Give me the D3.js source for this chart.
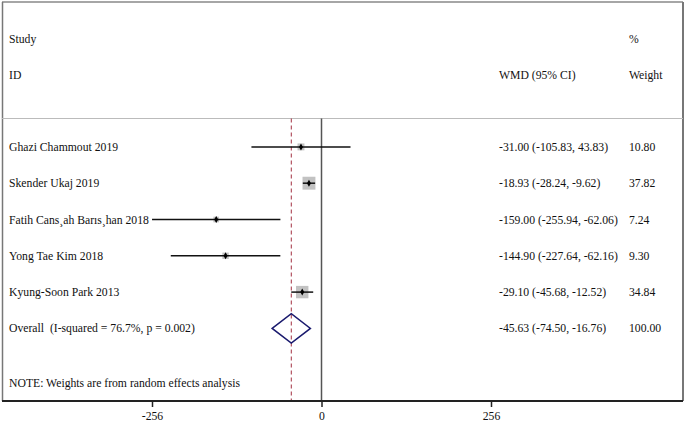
<!DOCTYPE html>
<html><head><meta charset="utf-8">
<script src="https://cdn.jsdelivr.net/npm/d3@7"></script>
<style>body{margin:0;background:#fff}svg{display:block}text{font-family:"Liberation Serif","Times New Roman",serif;font-size:11.7px;fill:#111;white-space:pre}</style>
</head><body><svg id="c" width="685" height="423"></svg>
<script>
const studies = ["Ghazi Chammout 2019","Skender Ukaj 2019","Fatih Cans\u00B8ah Barıs\u00B8han 2018","Yong Tae Kim 2018","Kyung-Soon Park 2013"];
const est = [-31.00,-18.93,-159.00,-144.90,-29.10];
const lo = [-105.83,-28.24,-255.94,-227.64,-45.68];
const hi = [43.83,-9.62,-62.06,-62.16,-12.52];
const weights = [10.80,37.82,7.24,9.30,34.84];
const ciText = ["-31.00 (-105.83, 43.83)","-18.93 (-28.24, -9.62)","-159.00 (-255.94, -62.06)","-144.90 (-227.64, -62.16)","-29.10 (-45.68, -12.52)"];
const weightText = ["10.80","37.82","7.24","9.30","34.84"];
const overall = {label:"Overall\u00A0\u00A0(I-squared = 76.7%, p = 0.002)", est:-45.63, lo:-74.50, hi:-16.76, text:"-45.63 (-74.50, -16.76)", weight:"100.00"};
const xTicks = [-256,0,256];

const svg = d3.select("#c");
const x = d3.scaleLinear().domain([-256,256]).range([152,491]);
const y = d3.scaleLinear().domain([0,5]).range([146.9,328.4]);
const axisY = 401;

// frame
svg.append("line").attr("x1",2).attr("x2",683).attr("y1",2).attr("y2",2).attr("stroke","#888").attr("stroke-width",1.5);
svg.append("line").attr("x1",2.5).attr("x2",2.5).attr("y1",2).attr("y2",axisY).attr("stroke","#777").attr("stroke-width",1.5);
svg.append("line").attr("x1",683).attr("x2",683).attr("y1",2).attr("y2",axisY).attr("stroke","#777").attr("stroke-width",2);
svg.append("line").attr("x1",2).attr("x2",683).attr("y1",118.5).attr("y2",118.5).attr("stroke","#bbb").attr("stroke-width",1.2);

// header
const hdr = [["Study",9,38.5],["ID",9,75],["WMD (95% CI)",499,75],["%",629,38.5],["Weight",629,75]];
hdr.forEach(h=>svg.append("text").attr("x",h[1]).attr("y",h[2]).attr("dy","0.35em").text(h[0]));

// zero line
svg.append("line").attr("x1",x(0)).attr("x2",x(0)).attr("y1",118.5).attr("y2",axisY).attr("stroke","#555").attr("stroke-width",1.5);
// overall dashed line
svg.append("line").attr("x1",x(overall.est)).attr("x2",x(overall.est)).attr("y1",118.5).attr("y2",axisY)
  .attr("stroke","#a33040").attr("stroke-width",1).attr("stroke-dasharray","4,3");

// study rows
studies.forEach((s,i)=>{
  const yy = y(i);
  svg.append("text").attr("x",9).attr("y",yy).attr("dy","0.35em").text(s);
  svg.append("text").attr("x",499).attr("y",yy).attr("dy","0.35em").text(ciText[i]);
  svg.append("text").attr("x",629).attr("y",yy).attr("dy","0.35em").text(weightText[i]);
  const side = 2.1*Math.sqrt(weights[i]);
  svg.append("rect").attr("x",x(est[i])-side/2).attr("y",yy-side/2).attr("width",side).attr("height",side).attr("fill","#c2c2c2");
  svg.append("line").attr("x1",x(lo[i])).attr("x2",x(hi[i])).attr("y1",yy).attr("y2",yy).attr("stroke","#111").attr("stroke-width",1.5);
  svg.append("path").attr("d",d3.symbol(d3.symbolDiamond,14)()).attr("transform",`translate(${x(est[i])},${yy})`).attr("fill","#000");
});

// overall
const oy = y(5);
svg.append("text").attr("x",9).attr("y",oy).attr("dy","0.35em").text(overall.label);
svg.append("text").attr("x",499).attr("y",oy).attr("dy","0.35em").text(overall.text);
svg.append("text").attr("x",629).attr("y",oy).attr("dy","0.35em").text(overall.weight);
const h = 14.7;
svg.append("path").attr("d",`M${x(overall.lo)},${oy}L${x(overall.est)},${oy-h}L${x(overall.hi)},${oy}L${x(overall.est)},${oy+h}Z`)
  .attr("fill","none").attr("stroke","#1a1a6e").attr("stroke-width",1.5);

svg.append("text").attr("x",9).attr("y",382.7).attr("dy","0.35em").text("NOTE: Weights are from random effects analysis");

// axis
svg.append("line").attr("x1",2).attr("x2",683).attr("y1",axisY).attr("y2",axisY).attr("stroke","#222").attr("stroke-width",2);
const ax = svg.append("g").attr("transform",`translate(0,${axisY})`).call(d3.axisBottom(x).tickValues(xTicks).tickSize(6).tickSizeOuter(0).tickFormat(d3.format("d")));
ax.select(".domain").remove();
ax.selectAll(".tick line").attr("stroke","#222").attr("stroke-width",1.5);
ax.selectAll(".tick text").attr("font-family","Liberation Serif, serif").attr("font-size",11.7).attr("fill","#111").attr("y",15).attr("dy","0.35em").text(d=>d<0?"-"+Math.abs(d):d);
</script></body></html>
